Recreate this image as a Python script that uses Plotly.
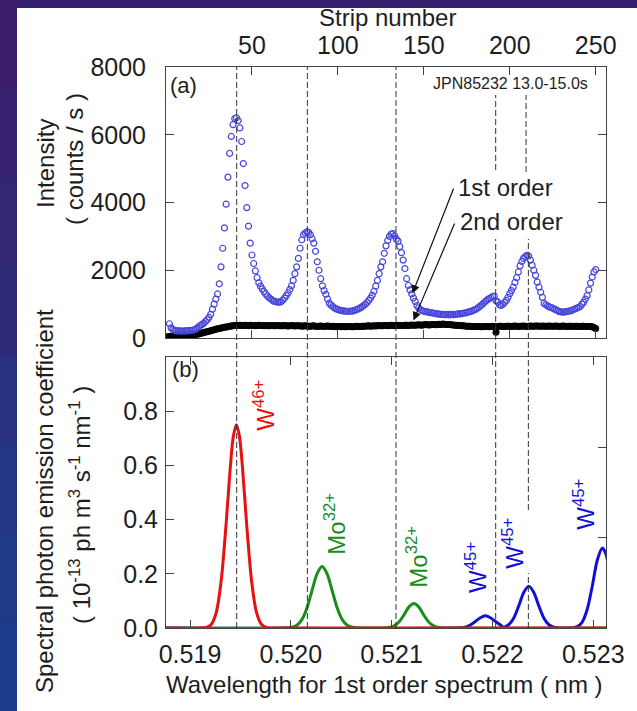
import plotly.graph_objects as go

# ---------------- data ----------------
strip_ticks = [50, 100, 150, 200, 250]
intensity_ticks = [0, 2000, 4000, 6000, 8000]
wavelength_ticks = [0.519, 0.520, 0.521, 0.522, 0.523]
wavelength_ticklabels = ["0.519", "0.520", "0.521", "0.522", "0.523"]
coef_ticks = [0.0, 0.2, 0.4, 0.6, 0.8]
coef_ticklabels = ["0.0", "0.2", "0.4", "0.6", "0.8"]

# panel (a): 1st order (open circles), one value per strip starting at strip 2
first_order_start_strip = 2
first_order_counts = [
    420, 300, 250, 225, 215, 210, 210, 205, 205, 210,
    210, 215, 220, 225, 235, 255, 290, 330, 370, 400,
    440, 490, 540, 610, 700, 850, 1000, 1150, 1300, 1600,
    2100, 2650, 3250, 3950, 4750, 5450, 5950, 6300, 6480, 6500,
    6420, 6200, 5800, 5150, 4500, 3850, 3300, 2800, 2450, 2200,
    1980, 1780, 1630, 1530, 1450, 1370, 1300, 1240, 1190, 1150,
    1110, 1080, 1070, 1060, 1060, 1070, 1120, 1180, 1250, 1330,
    1430, 1540, 1700, 1900, 2100, 2350, 2650, 2900, 3050, 3100,
    3130, 3120, 3050, 2930, 2800, 2560, 2250, 2000, 1750, 1540,
    1400, 1290, 1150, 1030, 970, 930, 890, 860, 840, 820,
    810, 800, 795, 790, 790, 790, 795, 800, 820, 840,
    860, 890, 920, 960, 1000, 1050, 1110, 1180, 1260, 1380,
    1530, 1700, 1900, 2100, 2250, 2500, 2720, 2880, 3000, 3070,
    3080, 3020, 2920, 2860, 2700, 2520, 2300, 2050, 1750, 1550,
    1420, 1300, 1180, 1080, 960, 890, 840, 810, 790, 780,
    770, 760, 750, 740, 730, 720, 710, 705, 700, 695,
    690, 690, 700, 680, 700, 690, 700, 700, 710, 710,
    720, 730, 740, 750, 770, 780, 800, 820, 840, 870,
    910, 950, 990, 1040, 1090, 1130, 1160, 1190, 1220, 1240,
    1100, 1060, 980, 960, 1000, 1050, 1110, 1200, 1310, 1400,
    1500, 1640, 1780, 1950, 2130, 2260, 2350, 2400, 2440, 2420,
    2300, 2150, 2000, 1850, 1650, 1500, 1350, 1200, 1020, 980,
    950, 920, 900, 880, 850, 830, 800, 780, 770, 760,
    770, 780, 790, 800, 810, 840, 860, 880, 900, 930,
    1000, 1060, 1150, 1250, 1420, 1620, 1800, 1950, 2020,
]

# panel (a): 2nd order (filled dots), one value per strip starting at strip 0
second_order_start_strip = 0
second_order_counts = [
    20, 35, 45, 50, 55, 60, 60, 65, 65, 70,
    70, 75, 75, 80, 80, 85, 90, 100, 110, 120,
    135, 150, 160, 175, 185, 200, 215, 230, 245, 260,
    270, 280, 295, 305, 315, 325, 335, 345, 355, 365,
    370, 375, 370, 380, 372, 368, 378, 370, 365, 375,
    372, 368, 362, 370, 375, 368, 372, 365, 370, 360,
    365, 368, 372, 360, 365, 370, 362, 358, 365, 370,
    360, 355, 362, 368, 358, 352, 360, 365, 358, 350,
    355, 362, 356, 350, 345, 352, 358, 348, 342, 350,
    355, 346, 340, 348, 352, 344, 338, 345, 340, 335,
    342, 338, 332, 340, 335, 330, 336, 342, 334, 330,
    338, 344, 336, 340, 346, 350, 345, 352, 358, 350,
    355, 360, 355, 362, 368, 360, 365, 372, 366, 360,
    368, 375, 370, 365, 372, 378, 370, 366, 372, 380,
    375, 370, 378, 385, 380, 375, 382, 390, 385, 380,
    388, 395, 390, 385, 392, 400, 395, 390, 398, 405,
    400, 410, 405, 398, 402, 395, 390, 385, 380, 375,
    372, 368, 362, 358, 355, 350, 348, 345, 342, 340,
    338, 336, 340, 335, 332, 338, 342, 336, 334, 340,
    345, 338, 170, 340, 345, 350, 342, 338, 345, 350,
    346, 342, 348, 352, 345, 340, 346, 350, 355, 348,
    342, 350, 354, 348, 345, 352, 356, 350, 346, 352,
    348, 345, 350, 355, 348, 344, 350, 354, 348, 342,
    348, 352, 346, 340, 345, 350, 344, 340, 346, 350,
    342, 338, 344, 348, 340, 336, 342, 338, 330, 310,
    280,
]

# panel (b): spectral photon emission coefficients
red_wavelength = [0.51870, 0.51910, 0.51916, 0.51921, 0.51926, 0.51931, 0.51936, 0.51940,
                  0.51943, 0.51946, 0.51949, 0.51952, 0.51956, 0.51961, 0.51966, 0.51971,
                  0.51976, 0.51990, 0.52320]
red_coef = [0, 0, 0.002, 0.013, 0.057, 0.176, 0.393, 0.595,
            0.708, 0.75, 0.708, 0.595, 0.393, 0.176, 0.057, 0.013,
            0.002, 0, 0]

green_wavelength = [0.51870, 0.51990, 0.52001, 0.52006, 0.52011, 0.52016, 0.52021, 0.52026,
                    0.52031, 0.52036, 0.52041, 0.52046, 0.52051, 0.52056, 0.52061, 0.52075,
                    0.52090, 0.52097, 0.52102, 0.52107, 0.52112, 0.52117, 0.52122, 0.52127,
                    0.52132, 0.52137, 0.52142, 0.52147, 0.52160, 0.52320]
green_coef = [0, 0, 0.0025, 0.01, 0.031, 0.074, 0.138, 0.2,
              0.227, 0.2, 0.138, 0.074, 0.031, 0.01, 0.0025, 0,
              0, 0.002, 0.007, 0.021, 0.047, 0.077, 0.09, 0.077,
              0.047, 0.021, 0.007, 0.002, 0, 0]

blue_wavelength = [0.51870, 0.52160, 0.52173, 0.52178, 0.52183, 0.52188, 0.52193, 0.52198,
                   0.52203, 0.52208, 0.52211, 0.52216, 0.52221, 0.52226, 0.52231, 0.52236,
                   0.52241, 0.52246, 0.52251, 0.52256, 0.52261, 0.52270, 0.52279, 0.52284,
                   0.52289, 0.52294, 0.52299, 0.52304, 0.52309, 0.52312, 0.52315]
blue_coef = [0, 0, 0.003, 0.011, 0.024, 0.038, 0.045, 0.038,
             0.024, 0.011, 0.003, 0.012, 0.036, 0.081, 0.131, 0.154,
             0.131, 0.081, 0.036, 0.012, 0.003, 0, 0.001, 0.005,
             0.022, 0.069, 0.155, 0.251, 0.295, 0.278, 0.234]

# dashed marker lines (wavelength positions)
line_wavelengths = [0.519463, 0.520164, 0.521043, 0.522032, 0.522356]
line5_upper_wavelength = 0.522333

# ion labels: (text, colour, wavelength, coefficient at label centre)
ion_labels = [
    ("W<sup>46+</sup>", "#e81010", 0.519734, 0.82),
    ("Mo<sup>32+</sup>", "#1a8c1a", 0.520438, 0.385),
    ("Mo<sup>32+</sup>", "#1a8c1a", 0.521251, 0.263),
    ("W<sup>45+</sup>", "#1010d8", 0.521837, 0.222),
    ("W<sup>45+</sup>", "#1010d8", 0.522204, 0.311),
    ("W<sup>45+</sup>", "#1010d8", 0.522908, 0.455),
]

# ---------------- geometry helpers ----------------
W, H = 637, 711
ML, MR, MT, MB = 166, 31, 67, 83
PW, PH = W - ML - MR, H - MT - MB


def px(xp):
    return (xp - ML) / PW


def py(yp):
    return (H - MB - yp) / PH


FONT = "Liberation Sans, Arial, Helvetica, sans-serif"
AXC = "#444444"
TXT = "#1e1e1e"

first_strips = list(range(first_order_start_strip, first_order_start_strip + len(first_order_counts)))
second_strips = list(range(second_order_start_strip, second_order_start_strip + len(second_order_counts)))

fig = go.Figure()

# panel (a)
fig.add_trace(go.Scatter(x=second_strips, y=second_order_counts, xaxis="x2", yaxis="y2",
                         mode="markers", marker=dict(color="black", size=7),
                         name="2nd order", hoverinfo="skip"))
fig.add_trace(go.Scatter(x=first_strips, y=first_order_counts, xaxis="x2", yaxis="y2",
                         mode="markers",
                         marker=dict(symbol="circle-open", color="#4646dc", size=6,
                                     line=dict(width=1.2, color="#4646dc")),
                         name="1st order"))

# panel (b)
for wl, cf, col in [(blue_wavelength, blue_coef, "#1010d8"),
                    (green_wavelength, green_coef, "#1a8c1a"),
                    (red_wavelength, red_coef, "#e81010")]:
    fig.add_trace(go.Scatter(x=wl, y=cf, xaxis="x", yaxis="y", mode="lines",
                             line=dict(color=col, width=3, shape="spline", smoothing=0.8),
                             hoverinfo="skip"))

# dummy trace for right-hand tick axis of panel (b)
fig.add_trace(go.Scatter(x=[0.521], y=[0], xaxis="x", yaxis="y3", mode="markers",
                         marker=dict(opacity=0), hoverinfo="skip"))

axis_common = dict(ticks="inside", ticklen=8, tickwidth=1, tickcolor=AXC,
                   showline=True, linecolor=AXC, linewidth=1,
                   showgrid=False, zeroline=False,
                   tickfont=dict(family=FONT, size=25, color=TXT))

fig.update_layout(
    width=W, height=H, margin=dict(l=ML, r=MR, t=MT, b=MB),
    paper_bgcolor="#34206c", plot_bgcolor="white", showlegend=False,
    font=dict(family=FONT, size=24, color=TXT),
    xaxis=dict(domain=[0, 1], anchor="y", range=[0.518762, 0.523126],
               tickvals=wavelength_ticks, ticktext=wavelength_ticklabels,
               mirror="ticks", ticklabelstandoff=4, **axis_common),
    yaxis=dict(domain=[0, 271 / PH], anchor="x", range=[0, 1.0],
               tickvals=coef_ticks, ticktext=coef_ticklabels,
               mirror=True, ticklabelstandoff=2, **axis_common),
    yaxis3=dict(overlaying="y", side="right", anchor="x", range=[0, 3],
                tickvals=[1, 2], showticklabels=False, ticks="inside", ticklen=8,
                tickcolor=AXC, showline=False, showgrid=False, zeroline=False),
    xaxis2=dict(domain=[0, 1], anchor="y2", side="top", range=[0, 256],
                tickvals=strip_ticks, mirror="ticks", ticklabelstandoff=2, **axis_common),
    yaxis2=dict(domain=[(H - MB - 338) / PH, 1], anchor="x2", range=[0, 8000],
                tickvals=intensity_ticks, mirror="ticks", ticklabelstandoff=14, **axis_common),
)

shapes = []
# white figure panel on the slide background
shapes.append(dict(type="rect", xref="paper", yref="paper", layer="below",
                   x0=px(17), x1=px(645), y0=py(720), y1=py(8),
                   fillcolor="white", line=dict(width=0)))
# left slide strip gradient (purple -> blue)
band_cols = ["#3c1e6c", "#38216f", "#332672", "#2d2b78", "#28317e", "#233683", "#1f3b88", "#1c3e8c"]
nb = len(band_cols)
for i, c in enumerate(band_cols):
    shapes.append(dict(type="rect", xref="paper", yref="paper", layer="below",
                       x0=px(-5), x1=px(17), y0=py((i + 1) * H / nb + 1), y1=py(i * H / nb),
                       fillcolor=c, line=dict(width=0)))

dash = dict(color="#333333", width=1, dash="6px,3px")
full = [(py(MT), py(H - MB))]
segments = [
    (line_wavelengths[0], full),
    (line_wavelengths[1], full),
    (line_wavelengths[2], full),
    (line_wavelengths[3], [(py(95), py(170)), (py(239), py(H - MB))]),
    (line5_upper_wavelength, [(py(95), py(172))]),
    (line_wavelengths[4], [(py(239), py(510)), (py(573), py(H - MB))]),
]
for xw, segs in segments:
    for y1, y0 in segs:
        shapes.append(dict(type="line", xref="x", yref="paper", x0=xw, x1=xw,
                           y0=y0, y1=y1, line=dash))
fig.update_layout(shapes=shapes)


def txt_ann(text, xp, yp, size=24, color=TXT, angle=0):
    return dict(text=text, xref="paper", yref="paper", x=px(xp), y=py(yp),
                xanchor="center", yanchor="middle", textangle=angle,
                showarrow=False, font=dict(size=size, color=color, family=FONT))


ann = [
    txt_ann("Strip number", 387, 18),
    txt_ann("Wavelength for 1st order spectrum ( nm )", 384, 684),
    txt_ann("Intensity", 45, 163, angle=-90),
    txt_ann("( counts / s )", 75, 159, angle=-90),
    txt_ann("Spectral photon emission coefficient", 44, 501, angle=-90),
    txt_ann("( 10<sup>-13</sup> ph m<sup>3</sup> s<sup>-1</sup> nm<sup>-1</sup> )", 80, 505, angle=-90),
    txt_ann("(a)", 183, 85, size=22),
    txt_ann("(b)", 185, 370, size=22),
    txt_ann("JPN85232 13.0-15.0s", 510, 83, size=16),
    txt_ann("1st order", 505, 187),
    txt_ann("2nd order", 511, 221),
]
# arrows
ann.append(dict(text="", x=143.4, y=1310, xref="x2", yref="y2", showarrow=True,
                ax=41.7, ay=-106.6, arrowhead=2, arrowsize=1.4, arrowwidth=1.2,
                arrowcolor="#111"))
ann.append(dict(text="", x=144.0, y=520, xref="x2", yref="y2", showarrow=True,
                ax=41.7, ay=-98.3, arrowhead=2, arrowsize=1.4, arrowwidth=1.2,
                arrowcolor="#111"))
for txt, col, wl, cf in ion_labels:
    ann.append(dict(text=txt, x=wl, y=cf, xref="x", yref="y", textangle=-90,
                    xanchor="center", yanchor="middle",
                    showarrow=False, font=dict(size=24, color=col, family=FONT)))
fig.update_layout(annotations=ann)

fig.write_html("out.html")
